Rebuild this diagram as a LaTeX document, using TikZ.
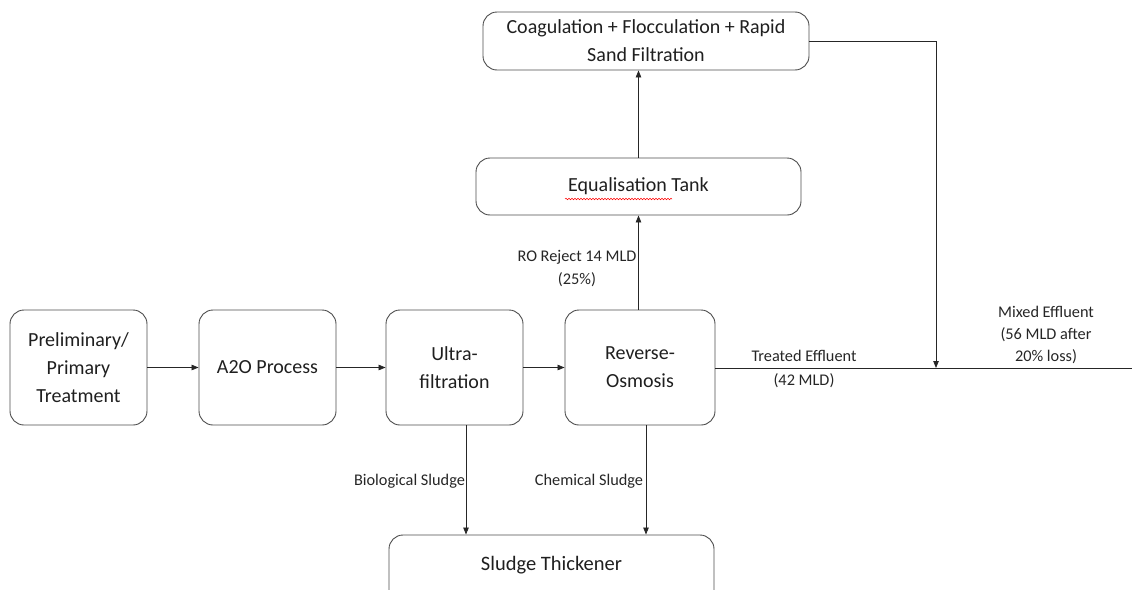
\documentclass[tikz,border=0pt]{standalone}
\usepackage{fontspec}
\setmainfont{Carlito}
\usetikzlibrary{arrows.meta,decorations.pathmorphing}
\begin{document}
\begin{tikzpicture}[x=1pt,y=-1pt,
 box/.style={draw=black!70,line width=0.9pt,rounded corners=14pt,align=center,
   font=\fontsize{20}{28}\selectfont,text=black!88,inner sep=0pt},
 conn/.style={draw=black!85,line width=0.8pt,-{Triangle[length=7pt,width=5.5pt]}},
 plain/.style={draw=black!85,line width=0.8pt},
 lbl/.style={font=\fontsize{16.3}{23}\selectfont,text=black!85,align=center,inner sep=0pt}]
\useasboundingbox (0,0) rectangle (1132,589);
\clip (0,0) rectangle (1132,589);
\node[box,minimum width=137pt,minimum height=115pt] (prelim) at (78.5,367.5) {Preliminary/\\Primary\\Treatment};
\node[box,minimum width=137pt,minimum height=115pt] (a2o) at (267.5,367.5) {A2O Process};
\node[box,minimum width=137pt,minimum height=115pt] (ultra) at (454.5,367.5) {Ultra-\\filtration};
\node[box,minimum width=150pt,minimum height=115pt] (ro) at (640,367.5) {Reverse-\\Osmosis};
\node[box,minimum width=325pt,minimum height=57pt] (eq) at (638.5,186.5) {Equalisation Tank};
\node[box,minimum width=326pt,minimum height=58pt] (coag) at (646,41) {Coagulation + Flocculation + Rapid\\Sand Filtration};
\node[box,minimum width=325pt,minimum height=76pt] (thick) at (551.5,573) {};
\node[lbl,font=\fontsize{20.5}{28}\selectfont,text=black!88] (thicktext) at (551.5,565) {Sludge Thickener};
\draw[red,line width=0.5pt,decorate,decoration={snake,amplitude=0.8pt,segment length=3pt}] (565,199) -- (672,199);
\coordinate (mix) at (936,368);
\coordinate (out) at (1132,368);
\draw[conn] (prelim) -- (a2o);
\draw[conn] (a2o) -- (ultra);
\draw[conn] (ultra) -- (ro);
\draw[conn] (ro.north -| eq.south) -- (eq.south);
\draw[conn] (eq.north) -- (eq.north |- coag.south);
\draw[plain] (ro.east |- mix) -- (out);
\draw[conn] (coag.east) -| (mix);
\draw[conn] ([xshift=11.5pt]ultra.south) -- ([xshift=11.5pt]ultra.south |- thick.north);
\draw[conn] ([xshift=6pt]ro.south) -- ([xshift=6pt]ro.south |- thick.north);
\node[lbl] (rorej) at (577,269) {RO Reject 14 MLD\\(25\%)};
\node[lbl] (bio) at (409.5,481) {Biological Sludge};
\node[lbl] (chem) at (589,481) {Chemical Sludge};
\node[lbl,font=\fontsize{16.3}{24}\selectfont] (treated) at (804,369) {Treated Effluent\\(42 MLD)};
\node[lbl,font=\fontsize{16.3}{22}\selectfont] (mixed) at (1046,335) {Mixed Effluent\\(56 MLD after\\20\% loss)};
\end{tikzpicture}
\end{document}
